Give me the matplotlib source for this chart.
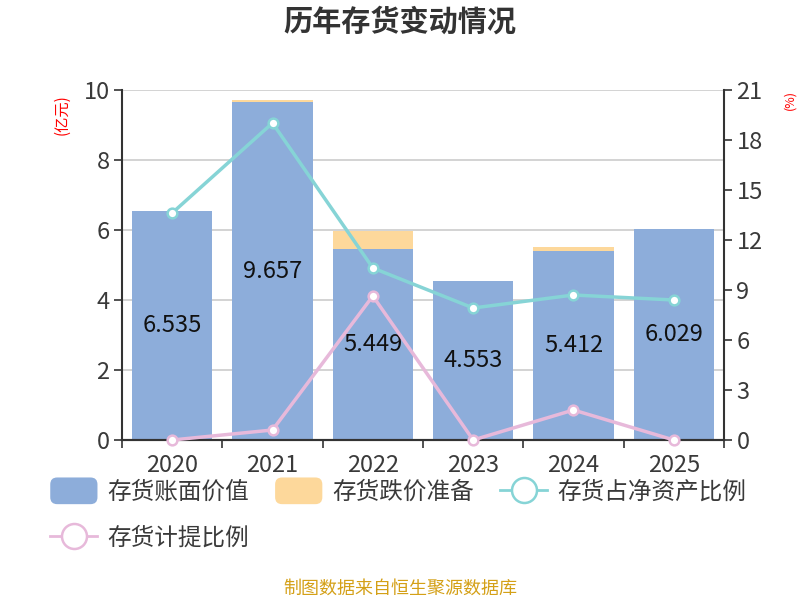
import matplotlib
matplotlib.use("Agg")
import matplotlib.pyplot as plt
from matplotlib.patches import FancyBboxPatch, Patch
from matplotlib.lines import Line2D
from matplotlib.legend_handler import HandlerPatch
from matplotlib.ticker import MultipleLocator, FixedLocator

plt.rcParams['font.family'] = ['Noto Sans CJK SC', 'DejaVu Sans']

years = ['2020', '2021', '2022', '2023', '2024', '2025']
book_value = [6.535, 9.657, 5.449, 4.553, 5.412, 6.029]
impairment = [0.0, 0.06, 0.52, 0.0, 0.10, 0.0]
ratio_net_assets = [13.62, 19.02, 10.32, 7.92, 8.70, 8.40]
provision_ratio = [0.0, 0.6, 8.64, 0.0, 1.8, 0.0]

c_blue = '#8DADDA'
c_orange = '#FDD89B'
c_teal = '#86D4D6'
c_pink = '#E7B9DA'
c_axis = '#333333'
c_text = '#3a3a3a'

fig = plt.figure(figsize=(8, 6), dpi=100)
ax = fig.add_axes([122/800, 160/600, (724-122)/800, 350/600])
ax2 = ax.twinx()

x = list(range(len(years)))
ax.bar(x, book_value, width=0.8, color=c_blue, zorder=2)
ax.bar(x, impairment, width=0.8, bottom=book_value, color=c_orange, zorder=2)
for xi, v in zip(x, book_value):
    ax.text(xi, v/2, f'{v:.3f}', ha='center', va='center', fontsize=17, color='#111111', zorder=5)

ax.set_xlim(-0.5, len(years)-0.5)
ax.set_ylim(0, 10)
ax.yaxis.set_major_locator(MultipleLocator(2))
ax.set_xticks(x)
ax.set_xticklabels(years)
ax.xaxis.set_minor_locator(FixedLocator([i + 0.5 for i in range(-1, len(years))]))
ax.tick_params(axis='x', which='major', length=0, labelsize=17, labelcolor=c_text, pad=10)
ax.tick_params(axis='x', which='minor', length=6, width=1.2, color=c_axis)
ax.tick_params(axis='y', length=6, width=1.2, color=c_axis, labelsize=17, labelcolor=c_text, pad=3)
ax.grid(axis='y', color='#CCCCCC', linewidth=1.2, zorder=0)
ax.set_axisbelow(True)

ax2.plot(x, ratio_net_assets, color=c_teal, linewidth=2.5, marker='o', markersize=7,
         markerfacecolor='white', markeredgecolor=c_teal, markeredgewidth=1.8, zorder=4)
ax2.plot(x, provision_ratio, color=c_pink, linewidth=2.5, marker='o', markersize=7,
         markerfacecolor='white', markeredgecolor=c_pink, markeredgewidth=1.8, zorder=4, clip_on=False)
ax2.set_ylim(0, 21)
ax2.yaxis.set_major_locator(MultipleLocator(3))
ax2.tick_params(axis='y', length=6, width=1.2, color=c_axis, labelsize=17, labelcolor=c_text, pad=3)

for a in (ax, ax2):
    a.spines['top'].set_visible(False)
    for s in ('left', 'right', 'bottom'):
        a.spines[s].set_color(c_axis)
        a.spines[s].set_linewidth(1.5)
ax.spines['right'].set_visible(False)
ax2.spines['left'].set_visible(False)

fig.text(62/800, 1 - 115/600, '(亿元)', rotation=90, color='red', fontsize=11, ha='center', va='center')
fig.text(790/800, 1 - 100/600, '(%)', rotation=90, color='red', fontsize=9, ha='center', va='center')

fig.text(0.5, 1 - 22/600, '历年存货变动情况', ha='center', va='center', fontsize=21,
         fontweight='bold', color='#333333')
fig.text(0.5, 1 - 589/600, '制图数据来自恒生聚源数据库', ha='center', va='center', fontsize=13,
         color='#D4A017')


class RoundedHandler(HandlerPatch):
    def create_artists(self, legend, orig_handle, xdescent, ydescent, width, height, fontsize, trans):
        p = FancyBboxPatch((-xdescent, -ydescent - 2), width, height + 4,
                           boxstyle='round,pad=0,rounding_size=5',
                           facecolor=orig_handle.get_facecolor(), edgecolor='none', transform=trans)
        return [p]


h_blue = Patch(facecolor=c_blue)
h_orange = Patch(facecolor=c_orange)
h_teal = Line2D([0], [0], color=c_teal, linewidth=2, marker='o', markersize=18,
                markerfacecolor='white', markeredgecolor=c_teal, markeredgewidth=1.8)
h_pink = Line2D([0], [0], color=c_pink, linewidth=2, marker='o', markersize=18,
                markerfacecolor='white', markeredgecolor=c_pink, markeredgewidth=1.8)
handles = [h_blue, h_pink, h_orange, h_teal]
labels = ['存货账面价值', '存货计提比例', '存货跌价准备', '存货占净资产比例']
leg = fig.legend(handles, labels, loc='upper left', bbox_to_anchor=(29/800, 1 - 459/600), ncol=3,
                 frameon=False, fontsize=17, handlelength=2.0, handleheight=1.0,
                 columnspacing=1.1, handletextpad=0.42, labelspacing=0.95, labelcolor=c_text,
                 handler_map={Patch: RoundedHandler()})

fig.savefig('out.png', dpi=100)
